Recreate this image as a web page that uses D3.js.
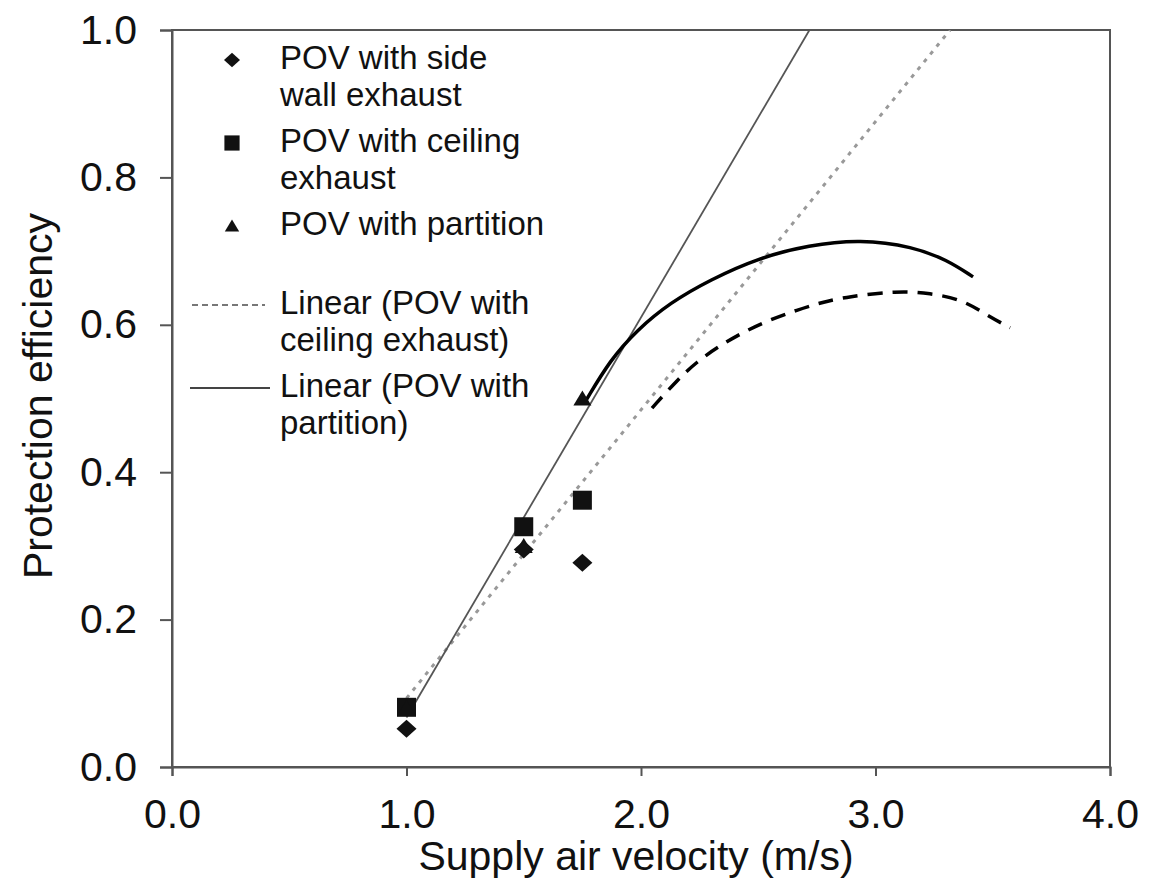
<!DOCTYPE html>
<html>
<head>
<meta charset="utf-8">
<script src="https://cdn.jsdelivr.net/npm/d3@7"></script>
<style>
  body { margin: 0; background: #fff; }
  text { font-family: "Liberation Sans", Arial, sans-serif; fill: #111; }
</style>
</head>
<body>
<script>
var velocity = [1.0, 1.5, 1.75];
var sideWall = [0.052, 0.295, 0.277];
var ceiling = [0.081, 0.326, 0.362];
var partition = [0.080, 0.300, 0.500];

// hand drawn curves added over the plot
var curveSolidX = [1.765, 1.868, 1.983, 2.124, 2.294, 2.503, 2.716, 2.934, 3.16, 3.305, 3.416];
var curveSolidY = [0.497, 0.552, 0.593, 0.630, 0.661, 0.691, 0.708, 0.716, 0.706, 0.688, 0.665];
var curveDashX = [2.047, 2.154, 2.239, 2.328, 2.435, 2.550, 2.665, 2.776, 2.878, 3.092, 3.232, 3.373, 3.475, 3.574];
var curveDashY = [0.487, 0.525, 0.550, 0.570, 0.590, 0.607, 0.620, 0.631, 0.638, 0.646, 0.643, 0.634, 0.613, 0.596];

var xTicks = [0, 1, 2, 3, 4];
var yTicks = [0, 0.2, 0.4, 0.6, 0.8, 1.0];

var legendLabels = [
  ["POV with side", "wall exhaust"],
  ["POV with ceiling", "exhaust"],
  ["POV with partition"],
  ["Linear (POV with", "ceiling exhaust)"],
  ["Linear (POV with", "partition)"]
];

var xTitle = "Supply air velocity (m/s)";
var yTitle = "Protection efficiency";

var W = 1149, H = 890;
var margin = {top: 30, left: 172, right: 39, bottom: 123};
var width = W - margin.left - margin.right;
var height = H - margin.top - margin.bottom;

var x = d3.scaleLinear().domain([0, 4]).range([0, width]);
var y = d3.scaleLinear().domain([0, 1]).range([height, 0]);

var svg = d3.select("body").append("svg")
    .attr("width", W)
    .attr("height", H);

svg.append("defs").append("clipPath").attr("id", "plotclip")
  .append("rect").attr("width", width).attr("height", height);

var g = svg.append("g")
    .attr("transform", "translate(" + margin.left + "," + margin.top + ")");

// frame
g.append("rect")
    .attr("width", width).attr("height", height)
    .attr("fill", "none").attr("stroke", "#555").attr("stroke-width", 2);

// axes
var xAxis = g.append("g")
    .attr("transform", "translate(0," + height + ")")
    .call(d3.axisBottom(x).tickValues(xTicks).tickFormat(d3.format(".1f")).tickSize(9).tickPadding(6));
var yAxis = g.append("g")
    .call(d3.axisLeft(y).tickValues(yTicks).tickFormat(d3.format(".1f")).tickSize(12).tickPadding(23));

[xAxis, yAxis].forEach(function(a) {
  a.select(".domain").attr("stroke", "#555").attr("stroke-width", 2);
  a.selectAll(".tick line").attr("stroke", "#555").attr("stroke-width", 2);
  a.selectAll(".tick text").style("font-size", "41px").attr("fill", "#111")
      .style("font-family", "'Liberation Sans', Arial, sans-serif");
});
xAxis.selectAll(".tick text").attr("dy", "0.71em").attr("y", 32);

// least squares trend line
function linearFit(xs, ys) {
  var mx = d3.mean(xs), my = d3.mean(ys);
  var sxy = d3.sum(xs, function(d, i) { return (d - mx) * (ys[i] - my); });
  var sxx = d3.sum(xs, function(d) { return (d - mx) * (d - mx); });
  var slope = sxy / sxx;
  return {slope: slope, intercept: my - slope * mx};
}

var fitCeil = linearFit(velocity, ceiling);
var fitPart = linearFit(velocity, partition);

var plot = g.append("g").attr("clip-path", "url(#plotclip)");

// trend runs from the first point up to the top of the plot
function trend(fit) {
  var x1 = (1.0 - fit.intercept) / fit.slope;
  return [[velocity[0], fit.intercept + fit.slope * velocity[0]], [x1, 1.0]];
}

var line = d3.line()
    .x(function(d) { return x(d[0]); })
    .y(function(d) { return y(d[1]); });

plot.append("path")
    .attr("d", line(trend(fitCeil)))
    .attr("fill", "none").attr("stroke", "#999").attr("stroke-width", 3)
    .attr("stroke-dasharray", "4,6");

plot.append("path")
    .attr("d", line(trend(fitPart)))
    .attr("fill", "none").attr("stroke", "#555").attr("stroke-width", 1.8);

// the added curves
var smooth = d3.line()
    .x(function(d) { return x(d[0]); })
    .y(function(d) { return y(d[1]); })
    .curve(d3.curveBasis);

plot.append("path")
    .attr("d", smooth(d3.zip(curveSolidX, curveSolidY)))
    .attr("fill", "none").attr("stroke", "#000").attr("stroke-width", 3.5);

plot.append("path")
    .attr("d", smooth(d3.zip(curveDashX, curveDashY)))
    .attr("fill", "none").attr("stroke", "#000").attr("stroke-width", 3.5)
    .attr("stroke-dasharray", "15,10");

// marker shapes
function diamond(s) { s.attr("d", "M0,-9L10,0L0,9L-10,0Z"); }
function square(s) { s.attr("d", "M-9.5,-9.5H9.5V9.5H-9.5Z"); }
function triangle(s) { s.attr("d", "M0,-8L9,7H-9Z"); }

function drawMarkers(ys, shape) {
  plot.selectAll(null)
    .data(d3.zip(velocity, ys))
    .enter().append("path")
    .attr("transform", function(d) { return "translate(" + x(d[0]) + "," + y(d[1]) + ")"; })
    .attr("fill", "#111")
    .call(shape);
}
drawMarkers(sideWall, diamond);
drawMarkers(ceiling, square);
drawMarkers(partition, triangle);

// legend
var legend = svg.append("g");
var rows = [
  {y: 60, kind: diamond},
  {y: 143, kind: square},
  {y: 226, kind: triangle},
  {y: 305, kind: "dash"},
  {y: 388, kind: "solid"}
];
rows.forEach(function(r, i) {
  if (r.kind === "dash") {
    legend.append("line").attr("x1", 192).attr("x2", 265).attr("y1", r.y).attr("y2", r.y)
      .attr("stroke", "#777").attr("stroke-width", 2).attr("stroke-dasharray", "6,4");
  } else if (r.kind === "solid") {
    legend.append("line").attr("x1", 190).attr("x2", 270).attr("y1", r.y).attr("y2", r.y)
      .attr("stroke", "#444").attr("stroke-width", 2);
  } else {
    legend.append("path").attr("transform", "translate(232," + r.y + ") scale(0.8)")
      .attr("fill", "#111").call(r.kind);
  }
  legendLabels[i].forEach(function(t, j) {
    legend.append("text")
      .attr("x", 280)
      .attr("y", r.y + 9 + j * 37)
      .style("font-size", "33px")
      .text(t);
  });
});

// axis titles
svg.append("text")
    .attr("x", 636).attr("y", 870)
    .attr("text-anchor", "middle")
    .style("font-size", "41px")
    .text(xTitle);

svg.append("text")
    .attr("transform", "translate(52,396) rotate(-90)")
    .attr("text-anchor", "middle")
    .style("font-size", "41px")
    .text(yTitle);
</script>
</body>
</html>
